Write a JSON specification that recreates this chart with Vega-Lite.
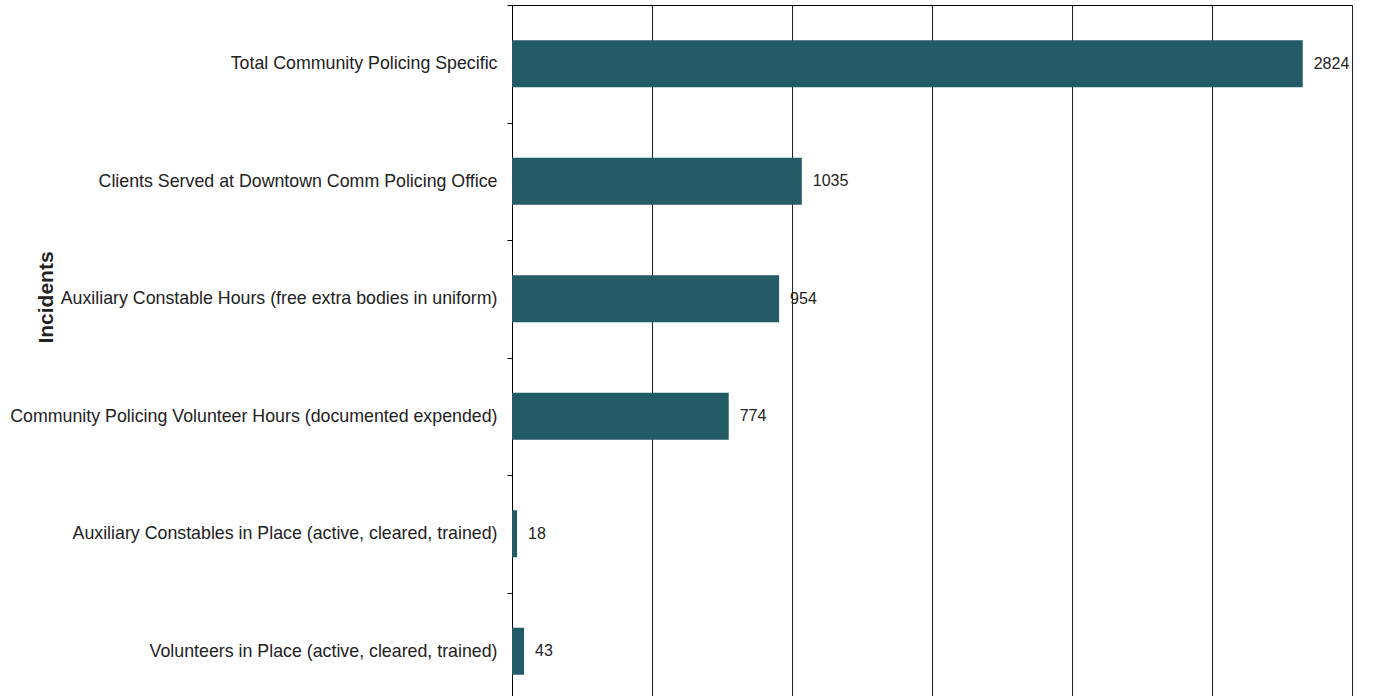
{
  "$schema": "https://vega.github.io/schema/vega-lite/v6.json",
  "width": 840,
  "height": 705,
  "autosize": {"type": "none"},
  "padding": {"left": 512, "top": 5, "right": 43, "bottom": 0},
  "background": "#ffffff",
  "config": {
    "font": "Liberation Sans",
    "view": {"stroke": "#000000", "strokeWidth": 1}
  },
  "data": {
    "values": [
      {"category": "Total Community Policing Specific", "value": 2824},
      {"category": "Clients Served at Downtown Comm Policing Office", "value": 1035},
      {"category": "Auxiliary Constable Hours (free extra bodies in uniform)", "value": 954},
      {"category": "Community Policing Volunteer Hours (documented expended)", "value": 774},
      {"category": "Auxiliary Constables in Place (active, cleared, trained)", "value": 18},
      {"category": "Volunteers in Place (active, cleared, trained)", "value": 43}
    ]
  },
  "encoding": {
    "y": {
      "field": "category",
      "type": "nominal",
      "sort": null,
      "scale": {"paddingInner": 0, "paddingOuter": 0},
      "axis": {
        "title": "Incidents",
        "titleFont": "Liberation Sans",
        "titleFontSize": 21,
        "titleFontWeight": "bold",
        "titleColor": "#222222",
        "titleAngle": -90,
        "titleX": -466,
        "titleY": 292,
        "titleAlign": "center",
        "titleBaseline": "middle",
        "labelFontSize": 17.8,
        "labelColor": "#222222",
        "labelPadding": 10,
        "labelLimit": 600,
        "tickSize": 5,
        "tickColor": "#000000",
        "tickBand": "extent",
        "domainColor": "#000000",
        "grid": false
      }
    },
    "x": {
      "field": "value",
      "type": "quantitative",
      "scale": {"domain": [0, 3000], "nice": false},
      "axis": {
        "values": [0, 500, 1000, 1500, 2000, 2500, 3000],
        "grid": true,
        "gridColor": "#222222",
        "gridOpacity": 1,
        "labels": false,
        "ticks": false,
        "domain": false,
        "title": null
      }
    }
  },
  "layer": [
    {"mark": {"type": "bar", "color": "#235B67", "height": {"band": 0.4}}},
    {
      "mark": {"type": "text", "align": "left", "baseline": "middle", "dx": 11, "fontSize": 16, "color": "#222222"},
      "encoding": {"text": {"field": "value", "type": "quantitative"}}
    }
  ]
}
